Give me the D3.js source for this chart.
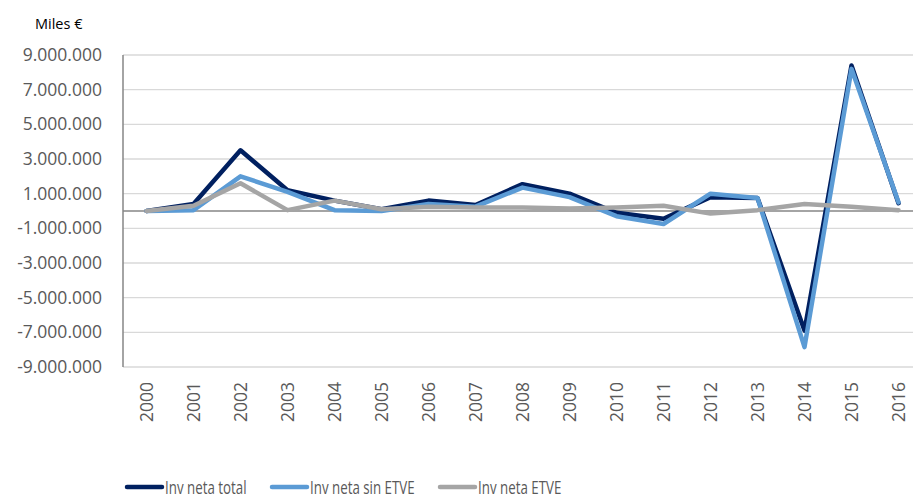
<!DOCTYPE html>
<html>
<head>
<meta charset="utf-8">
<script src="https://cdn.jsdelivr.net/npm/d3@7"></script>
<style>
  body { margin: 0; background: #fff; }
  svg { display: block; }
</style>
</head>
<body>
<svg id="chart" width="913" height="499"></svg>
<script>
// Years shown on the category axis
const years = ['2000', '2001', '2002', '2003', '2004', '2005', '2006', '2007', '2008',
    '2009', '2010', '2011', '2012', '2013', '2014', '2015', '2016'];

// Values in miles de euros
const invNetaTotal = [0, 400000, 3500000, 1200000, 600000, 100000, 600000, 350000, 1550000,
    1000000, -100000, -450000, 800000, 750000, -6900000, 8400000, 450000];
const invNetaSinEtve = [0, 50000, 2000000, 1100000, 50000, 0, 400000, 250000, 1350000,
    800000, -300000, -750000, 1000000, 750000, -7850000, 8200000, 500000];
const invNetaEtve = [0, 300000, 1600000, 50000, 600000, 100000, 250000, 200000, 200000,
    150000, 200000, 300000, -150000, 50000, 400000, 250000, 50000];

const yTicks = d3.range(-9000000, 9000001, 2000000);

const series = [
    { name: 'Inv neta total', values: invNetaTotal, color: '#002060' },
    { name: 'Inv neta sin ETVE', values: invNetaSinEtve, color: '#5B9BD5' },
    { name: 'Inv neta ETVE', values: invNetaEtve, color: '#A5A5A5' }
];

const width = 913;
const svg = d3.select('#chart');

const plotLeft = 123;
const x = d3.scaleBand().domain(years).range([plotLeft, plotLeft + years.length * 47]);
const y = d3.scaleLinear().domain([-9000000, 9000000]).range([367, 55]);

const es = d3.formatLocale({ decimal: ',', thousands: '.', grouping: [3], currency: ['', ' €'], minus: '-' });
const fmt = es.format(',d');

// Horizontal gridlines
svg.append('g')
    .selectAll('line')
    .data(yTicks)
    .join('line')
    .attr('x1', plotLeft)
    .attr('x2', width)
    .attr('y1', d => y(d))
    .attr('y2', d => y(d))
    .attr('stroke', '#d9d9d9')
    .attr('stroke-width', 1.4);

// Y axis labels
const yAxis = svg.append('g')
    .attr('transform', `translate(${plotLeft},0)`)
    .call(d3.axisLeft(y).tickValues(yTicks).tickFormat(fmt).tickSize(0).tickPadding(21));
yAxis.select('.domain').remove();
yAxis.selectAll('text')
    .attr('fill', '#595959')
    .style('font-family', '"Open Sans", sans-serif')
    .style('font-size', '17.5px');

// Vertical axis line
svg.append('line')
    .attr('x1', plotLeft).attr('x2', plotLeft)
    .attr('y1', y(9000000)).attr('y2', y(-9000000))
    .attr('stroke', '#868686')
    .attr('stroke-width', 1.5);

// Zero line
svg.append('line')
    .attr('x1', plotLeft).attr('x2', width)
    .attr('y1', y(0)).attr('y2', y(0))
    .attr('stroke', '#868686')
    .attr('stroke-width', 1.5);

// X axis labels, rotated
const xAxis = svg.append('g')
    .attr('transform', `translate(0,${y(-9000000)})`)
    .call(d3.axisBottom(x).tickSize(0).tickPadding(0));
xAxis.select('.domain').remove();
xAxis.selectAll('text')
    .attr('fill', '#595959')
    .style('font-family', '"Open Sans", sans-serif')
    .style('font-size', '17.5px')
    .attr('text-anchor', 'end')
    .attr('dy', '0.35em')
    .attr('transform', 'translate(0,15) rotate(-90)');

// Lines
const line = d3.line()
    .x((d, i) => x(years[i]) + x.bandwidth() / 2)
    .y(d => y(d));

svg.append('g')
    .selectAll('path')
    .data(series)
    .join('path')
    .attr('d', d => line(d.values))
    .attr('fill', 'none')
    .attr('stroke', d => d.color)
    .attr('stroke-width', 4.5)
    .attr('stroke-linejoin', 'round')
    .attr('stroke-linecap', 'round');

// Unit label
svg.append('text')
    .attr('x', 35)
    .attr('y', 29)
    .attr('fill', '#000')
    .style('font-family', '"Open Sans", sans-serif')
    .style('font-size', '14.5px')
    .text('Miles €');

// Legend
const legendX = [127, 272, 440];
const legend = svg.append('g')
    .selectAll('g')
    .data(series)
    .join('g')
    .attr('transform', (d, i) => `translate(${legendX[i]},487)`);

legend.append('line')
    .attr('x1', 0).attr('x2', 35)
    .attr('stroke', d => d.color)
    .attr('stroke-width', 4.5)
    .attr('stroke-linecap', 'round');

// Condensed legend text, as in the reference
legend.append('text')
    .attr('transform', 'translate(38,6.5) scale(0.74,1)')
    .attr('fill', '#595959')
    .style('font-family', '"Open Sans", sans-serif')
    .style('font-size', '18px')
    .text(d => d.name);
</script>
</body>
</html>
